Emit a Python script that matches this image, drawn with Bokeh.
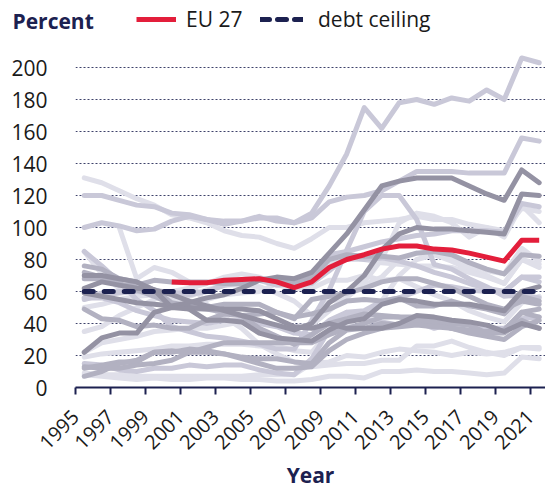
import numpy as np
from math import pi
from bokeh.plotting import figure
from bokeh.layouts import column
from bokeh.models import Legend, LegendItem, Label, FixedTicker, Range1d
from bokeh.embed import file_html
from bokeh.resources import INLINE

NA = np.nan
years = list(range(1995, 2022))

# Government debt, percent of GDP, one list per country
belgium     = [131, 128, 123, 118, 114, 108, 106, 103, 98, 95, 94, 90, 87, 93, 100, 100, 103, 104, 105, 107, 105, 105, 102, 100, 98, 112, 110]
bulgaria    = [NA, NA, 100, 68, 75, 72, 66, 52, 44, 37, 27, 21, 16, 13, 14, 15, 15, 17, 17, 26, 26, 29, 25, 22, 20, 25, 24]
czechia     = [13, 12, 12, 14, 15, 17, 22, 25, 28, 28, 28, 28, 28, 28, 33, 37, 40, 44, 44, 42, 40, 37, 34, 32, 30, 38, 42]
denmark     = [72, 69, 65, 61, 57, 52, 49, 49, 47, 45, 37, 32, 27, 33, 40, 43, 46, 45, 44, 44, 40, 37, 36, 34, 34, 42, 37]
germany     = [55, 58, 59, 60, 61, 59, 58, 60, 64, 65, 67, 66, 64, 65, 73, 82, 80, 81, 79, 76, 72, 69, 65, 62, 60, 69, 69]
estonia     = [8, 7, 6, 5, 6, 5, 5, 6, 6, 5, 5, 4, 4, 5, 7, 7, 6, 10, 10, 11, 10, 10, 9, 8, 9, 19, 18]
ireland     = [85, 76, 66, 55, 48, 38, 35, 32, 31, 29, 27, 24, 24, 42, 61, 86, 110, 120, 120, 105, 77, 74, 68, 63, 57, 58, 56]
greece      = [100, 103, 101, 98, 99, 104, 107, 105, 102, 104, 107, 104, 103, 109, 126, 146, 175, 162, 178, 180, 177, 181, 179, 186, 180, 206, 203]
spain       = [62, 66, 64, 62, 61, 58, 54, 51, 48, 45, 42, 39, 36, 40, 53, 60, 70, 86, 96, 100, 99, 99, 98, 97, 96, 121, 120]
france      = [56, 59, 60, 60, 59, 59, 59, 60, 64, 66, 67, 64, 65, 69, 83, 85, 88, 91, 93, 95, 96, 98, 98, 98, 97, 115, 113]
croatia     = [22, 28, 30, 32, 35, 36, 37, 37, 39, 41, 41, 39, 38, 39, 48, 57, 64, 69, 80, 84, 83, 80, 77, 73, 71, 87, 79]
italy       = [120, 120, 117, 114, 113, 109, 108, 105, 104, 104, 106, 106, 103, 106, 116, 119, 120, 123, 129, 135, 135, 135, 134, 134, 134, 156, 154]
cyprus      = [50, 52, 55, 57, 58, 55, 57, 61, 64, 64, 63, 59, 54, 45, 54, 56, 66, 80, 103, 109, 107, 103, 94, 100, 94, 114, 103]
latvia      = [15, 14, 11, 10, 12, 12, 14, 13, 14, 14, 11, 9, 8, 18, 36, 47, 43, 41, 39, 41, 37, 40, 39, 37, 37, 43, 44]
lithuania   = [12, 14, 16, 16, 22, 23, 22, 22, 21, 19, 18, 18, 16, 15, 28, 36, 37, 40, 39, 41, 42, 40, 39, 34, 36, 47, 44]
luxembourg  = [9, 8, 8, 7, 7, 7, 7, 7, 7, 7, 8, 8, 8, 15, 16, 20, 19, 22, 24, 23, 22, 20, 22, 21, 22, 25, 25]
hungary     = [85, 71, 62, 60, 60, 55, 52, 55, 58, 59, 60, 65, 66, 71, 77, 80, 80, 78, 77, 76, 76, 75, 72, 69, 65, 80, 77]
malta       = [35, 38, 45, 50, 55, 60, 62, 65, 69, 71, 69, 64, 62, 62, 67, 67, 70, 67, 68, 63, 58, 54, 48, 44, 41, 53, 57]
netherlands = [76, 74, 68, 66, 61, 53, 51, 50, 52, 52, 52, 47, 43, 55, 57, 59, 62, 66, 68, 68, 65, 62, 57, 52, 49, 54, 52]
austria     = [68, 68, 64, 64, 67, 66, 66, 66, 65, 65, 68, 67, 65, 69, 80, 83, 82, 82, 81, 84, 85, 83, 78, 74, 71, 83, 82]
poland      = [49, 43, 42, 38, 39, 37, 37, 42, 46, 45, 46, 47, 44, 46, 49, 54, 55, 54, 56, 51, 51, 54, 51, 49, 46, 57, 54]
portugal    = [59, 57, 55, 53, 52, 51, 53, 56, 58, 62, 67, 69, 68, 72, 84, 96, 111, 126, 129, 131, 131, 131, 126, 121, 117, 136, 128]
romania     = [7, 10, 15, 17, 22, 22, 24, 23, 21, 18, 15, 12, 12, 13, 23, 30, 34, 37, 38, 39, 38, 37, 35, 35, 35, 47, 49]
slovenia    = [19, 21, 22, 23, 24, 26, 26, 27, 27, 27, 26, 26, 23, 22, 35, 38, 47, 54, 70, 80, 83, 79, 74, 70, 65, 80, 75]
slovakia    = [22, 31, 34, 34, 47, 50, 49, 42, 42, 41, 34, 31, 30, 29, 36, 41, 43, 52, 55, 54, 52, 52, 52, 50, 48, 60, 63]
finland     = [56, 56, 53, 48, 45, 42, 41, 40, 42, 42, 40, 38, 34, 33, 42, 47, 48, 54, 56, 60, 64, 63, 61, 60, 60, 69, 66]
sweden      = [70, 70, 68, 66, 61, 50, 50, 49, 49, 49, 48, 43, 38, 37, 40, 37, 37, 37, 40, 45, 44, 42, 41, 39, 35, 40, 37]

eu27 = [NA, NA, NA, NA, NA, 66, 65.5, 65.5, 67, 67.5, 68, 66, 62.5, 66, 75, 80, 83, 86.5, 88.5, 88.5, 86.5, 86, 84, 81.5, 79, 92, 92]
debt_ceiling = [60] * len(years)

y_ticks = [0, 20, 40, 60, 80, 100, 120, 140, 160, 180, 200]
x_ticks = list(range(1995, 2022, 2))

NAVY = "#1c2150"
RED = "#e31e3b"
DARK = "#9492a3"
MID = "#b2b1c1"
LIGHT = "#c9c8d8"
PALE = "#dfdfe9"

countries = [
    (belgium, PALE), (bulgaria, PALE), (croatia, PALE), (slovenia, PALE),
    (luxembourg, PALE), (estonia, PALE), (cyprus, PALE), (hungary, PALE),
    (malta, PALE),
    (greece, LIGHT), (italy, LIGHT), (ireland, LIGHT), (france, LIGHT),
    (germany, LIGHT), (finland, LIGHT), (latvia, LIGHT),
    (austria, MID), (netherlands, MID), (czechia, MID), (poland, MID),
    (denmark, MID), (lithuania, MID), (romania, MID),
    (portugal, DARK), (spain, DARK), (sweden, DARK), (slovakia, DARK),
]

# each year's value sits in the middle of its year band
xs = [y + 0.5 for y in years]

# ---------- header: title and legend ----------
header = figure(width=545, height=40, output_backend="svg", toolbar_location=None,
                x_range=Range1d(0, 1), y_range=Range1d(0, 1),
                x_axis_location=None, y_axis_location=None, min_border=0,
                outline_line_color=None, frame_align=False)
header.grid.visible = False
# legend samples (kept outside the header's visible range)
h_eu = header.line(x=[5, 6], y=[5, 6], line_color=RED, line_width=5)
h_dc = header.line(x=[5, 6], y=[5, 6], line_color=NAVY, line_width=5, line_dash="9 8",
                   line_cap="round")
header.add_layout(Label(x=12, y=20, x_units="screen", y_units="screen", text="Percent",
                        text_font="Open Sans", text_font_style="bold",
                        text_font_size="21px", text_color=NAVY,
                        text_baseline="middle"))
common = dict(orientation="horizontal", glyph_height=22, label_text_font="Open Sans",
              label_text_font_size="21px", label_text_color="#1a1a1a",
              background_fill_alpha=0, border_line_alpha=0, padding=0, margin=0)
leg1 = Legend(items=[LegendItem(label="EU 27", renderers=[h_eu])],
              location=(136, 7), glyph_width=40, label_standoff=10, **common)
leg2 = Legend(items=[LegendItem(label="debt ceiling", renderers=[h_dc])],
              location=(260, 7), glyph_width=43, label_standoff=15, **common)
header.add_layout(leg1)
header.add_layout(leg2)

# ---------- main chart ----------
p = figure(frame_width=470, frame_height=347, output_backend="svg",
           toolbar_location=None, x_range=Range1d(1995, 2021.86),
           y_range=Range1d(0, 216.9), min_border_left=75, min_border_right=0,
           min_border_top=0, min_border_bottom=0, outline_line_color=None,
           frame_align=False)

for vals, col in countries:
    p.line(xs, vals, line_color=col, line_width=5, line_join="round", line_cap="round")

p.line(xs, debt_ceiling, line_color=NAVY, line_width=5, line_dash="9 11", line_cap="round")
p.line(xs, eu27, line_color=RED, line_width=5, line_join="round")

p.yaxis.ticker = FixedTicker(ticks=y_ticks)
p.ygrid.ticker = FixedTicker(ticks=y_ticks[1:])
p.ygrid.grid_line_color = NAVY
p.ygrid.grid_line_dash = "2 2"
p.ygrid.grid_line_width = 1.2
p.ygrid.grid_line_alpha = 0.85
p.xgrid.grid_line_color = None
p.yaxis.axis_line_color = None
p.yaxis.major_tick_line_color = None
p.yaxis.minor_tick_line_color = None
p.yaxis.major_label_standoff = 22
p.yaxis.major_label_text_font = "Open Sans"
p.yaxis.major_label_text_font_size = "21px"
p.yaxis.major_label_text_color = "#1a1a1a"

p.xaxis.ticker = FixedTicker(ticks=x_ticks)
p.xaxis.axis_line_color = NAVY
p.xaxis.axis_line_width = 2
p.xaxis.major_tick_line_color = NAVY
p.xaxis.major_tick_line_width = 2
p.xaxis.major_tick_out = 7
p.xaxis.major_tick_in = 0
p.xaxis.minor_tick_line_color = None
p.xaxis.major_label_orientation = pi / 4
p.xaxis.major_label_standoff = 19
p.xaxis.major_label_text_font = "Open Sans"
p.xaxis.major_label_text_font_size = "20px"
p.xaxis.major_label_text_color = "#1a1a1a"
p.xaxis.axis_label = "Year"
p.xaxis.axis_label_text_font = "Open Sans"
p.xaxis.axis_label_text_font_style = "bold"
p.xaxis.axis_label_text_font_size = "21px"
p.xaxis.axis_label_text_color = NAVY
p.xaxis.axis_label_standoff = 2

layout = column(header, p)
open("out.html", "w").write(file_html(layout, INLINE))
